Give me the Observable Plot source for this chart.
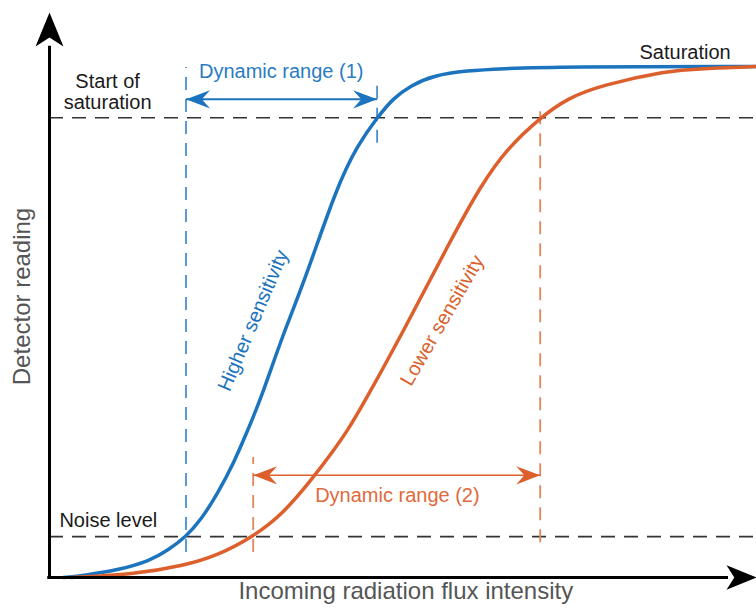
<!DOCTYPE html>
<html>
<head>
<meta charset="utf-8">
<script src="https://cdn.jsdelivr.net/npm/d3@7"></script>
<script src="https://cdn.jsdelivr.net/npm/@observablehq/plot@0.6"></script>
<style>
  body { margin: 0; background: #fff; }
  #chart svg { display: block; }
</style>
</head>
<body>
<div id="chart"></div>
<script>
// Detector response curves: reading vs. incoming flux (arbitrary units)
const highX = [2, 4.9, 9.7, 14.4, 16.9, 19.5, 21.6, 24.0, 26.3, 28.3, 30.1, 33.4, 36.3, 41.1, 44.0, 46.8, 49.1, 51.6, 54.9, 59.7, 64.4, 73, 101];
const highY = [0, 0.4, 1.4, 3.3, 5.3, 8, 11.2, 16.4, 22.3, 28.8, 34.6, 47.8, 57.5, 76.7, 84.6, 90, 93.8, 96.3, 98.3, 99.2, 99.6, 100, 100];
const lowX = [3, 12.0, 19.1, 24.0, 29.1, 33.4, 37.7, 40.6, 42.6, 44.9, 50.6, 57.3, 61.6, 65.4, 70.1, 74.0, 78.7, 88.3, 93.0, 101];
const lowY = [0, 0.6, 2.3, 4.3, 8, 12.5, 19.6, 24.9, 28.8, 34.1, 48.3, 66.0, 76.7, 84.0, 90, 93.8, 96.3, 99.2, 99.6, 100];

// Reference levels
const noiseLevel = 8;
const saturationStart = 90;

// Dynamic ranges: flux where each curve crosses the noise level and the start of saturation
const rangeNames = ["Dynamic range (1)", "Dynamic range (2)"];
const rangeStart = [19.5, 29.1];
const rangeEnd = [46.8, 70.1];
const rangeArrowY = [93.6, 20.0];
const startMarkY1 = [4.9, 4.9];
const startMarkY2 = [99.8, 23.5];
const endMarkY1 = [85, 6.8];
const endMarkY2 = [97.9, 91.8];
const rangeLabelX = [33.1, 49.7];
const rangeLabelY = [99.0, 16.1];

const curveNames = ["Higher sensitivity", "Lower sensitivity"];
const xTitle = "Incoming radiation flux intensity";
const yTitle = "Detector reading";

const blue = "#1b74bd";
const orange = "#dc5f2c";
const blueDash = "#4a90cf";
const orangeDash = "#e3845c";
const blueLabel = "#2a7cc2";
const orangeLabel = "#e06a3c";
const ink = "#1a1a1a";
const gray = "#555";

const curves = [
  ...highX.map((x, i) => ({series: curveNames[0], x, y: highY[i]})),
  ...lowX.map((x, i) => ({series: curveNames[1], x, y: lowY[i]}))
];
const ranges = rangeNames.map((name, i) => ({
  name, start: rangeStart[i], end: rangeEnd[i], y: rangeArrowY[i],
  s1: startMarkY1[i], s2: startMarkY2[i], e1: endMarkY1[i], e2: endMarkY2[i],
  lx: rangeLabelX[i], ly: rangeLabelY[i],
  color: i === 0 ? blue : orange,
  dash: i === 0 ? blueDash : orangeDash,
  label: i === 0 ? blueLabel : orangeLabel,
  width: i === 0 ? 2 : 1.6
}));

// Filled "stealth" arrowhead, tip at the origin, pointing up before rotation
function arrowhead(widthRatio, notchRatio) {
  return {
    draw(context, size) {
      const len = Math.sqrt(size / Math.PI);
      const half = len * widthRatio / 2;
      context.moveTo(0, 0);
      context.lineTo(half, len);
      context.lineTo(0, len * notchRatio);
      context.lineTo(-half, len);
      context.closePath();
    }
  };
}
const axisHead = arrowhead(0.82, 0.74);
const rangeHead = arrowhead(0.76, 0.66);

const font = "'Liberation Sans', Arial, Helvetica, sans-serif";

const chart = Plot.plot({
  width: 756,
  height: 612,
  marginLeft: 49,
  marginRight: 0,
  marginTop: 15,
  marginBottom: 35,
  x: {domain: [0, 101], axis: null},
  y: {domain: [0, 110], axis: null},
  style: {fontFamily: font, background: "#fff", overflow: "visible"},
  marks: [
    // reference levels
    Plot.ruleY([saturationStart, noiseLevel], {x1: 0, x2: 101, stroke: "#333", strokeWidth: 1.6, strokeDasharray: "14,9"}),
    // dynamic range boundaries
    Plot.ruleX(ranges, {x: "start", y1: "s1", y2: "s2", stroke: "dash", strokeWidth: 1.8, strokeDasharray: "13,9"}),
    Plot.ruleX(ranges, {x: "end", y1: "e1", y2: "e2", stroke: "dash", strokeWidth: 1.8, strokeDasharray: "13,9"}),
    // response curves
    Plot.line(curves, {x: "x", y: "y", z: "series", stroke: (d) => d.series === curveNames[0] ? blue : orange, strokeWidth: 3.5, curve: "basis"}),
    // dynamic range arrows
    Plot.link(ranges, {x1: "start", x2: "end", y1: "y", y2: "y", stroke: "color", strokeWidth: "width"}),
    Plot.dot(ranges, {x: "start", y: "y", symbol: rangeHead, r: 24, rotate: -90, fill: "color", stroke: "none"}),
    Plot.dot(ranges, {x: "end", y: "y", symbol: rangeHead, r: 24, rotate: 90, fill: "color", stroke: "none"}),
    Plot.text(ranges, {x: "lx", y: "ly", text: "name", fill: "label", fontSize: 20, textAnchor: "middle"}),
    // axes with arrowheads
    Plot.ruleX([0], {y1: -0.3, y2: 104, stroke: "#000", strokeWidth: 3}),
    Plot.ruleY([0], {x1: -0.25, x2: 97, stroke: "#000", strokeWidth: 3}),
    Plot.dot([0], {x: 0, y: 110.6, symbol: axisHead, r: 34, rotate: 0, fill: "#000", stroke: "none"}),
    Plot.dot([0], {x: 101, y: 0, symbol: axisHead, r: 30, rotate: 90, fill: "#000", stroke: "none"}),
    // curve labels
    Plot.text([curveNames[0]], {x: 29.1, y: 50.3, text: (d) => d, rotate: -67, fill: blue, fontSize: 20, textAnchor: "middle"}),
    Plot.text([curveNames[1]], {x: 56.1, y: 50.3, text: (d) => d, rotate: -60, fill: orange, fontSize: 20, textAnchor: "middle"}),
    // level labels
    Plot.text(["Start of\nsaturation"], {x: 8.3, y: 95.0, text: (d) => d, fill: ink, fontSize: 20, lineHeight: 1.05, textAnchor: "middle"}),
    Plot.text(["Saturation"], {x: 90.8, y: 102.7, text: (d) => d, fill: ink, fontSize: 20, textAnchor: "middle"}),
    Plot.text(["Noise level"], {x: 8.4, y: 11.2, text: (d) => d, fill: ink, fontSize: 20, textAnchor: "middle"}),
    // axis titles
    Plot.text([xTitle], {x: 50.9, frameAnchor: "bottom", dy: 21, text: (d) => d, fill: gray, fontSize: 24, textAnchor: "middle"}),
    Plot.text([yTitle], {y: 55, frameAnchor: "left", dx: -27, rotate: -90, text: (d) => d, fill: gray, fontSize: 24, textAnchor: "middle"})
  ]
});

document.getElementById("chart").append(chart);
</script>
</body>
</html>
